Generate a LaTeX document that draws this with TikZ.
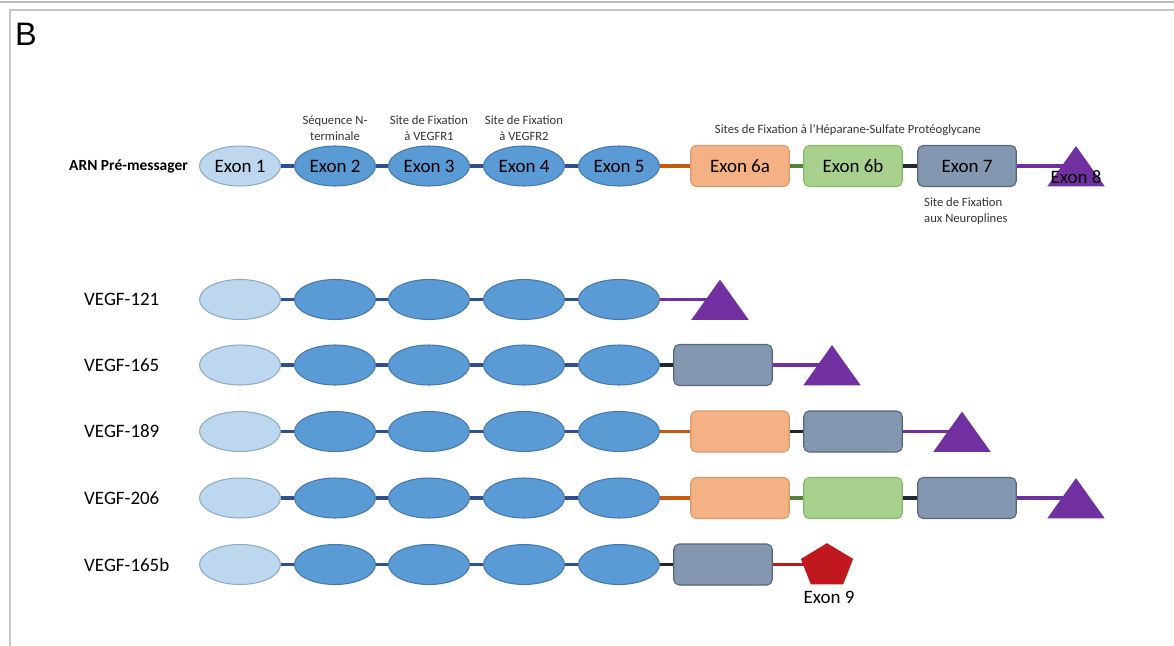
\documentclass[tikz,border=0pt]{standalone}
\usepackage{fontspec}
\setmainfont{Carlito}
\newfontfamily\arialfont{Liberation Sans}
\usetikzlibrary{shapes.geometric,backgrounds}

\definecolor{exlight}{HTML}{BDD7EE}
\definecolor{exlightline}{HTML}{8EA9C8}
\definecolor{exblue}{HTML}{5B9BD5}
\definecolor{exblueline}{HTML}{4677AD}
\definecolor{exorange}{HTML}{F4B183}
\definecolor{exorangeline}{HTML}{D99A6C}
\definecolor{exgreen}{HTML}{A9D18E}
\definecolor{exgreenline}{HTML}{86B86A}
\definecolor{exgrey}{HTML}{8497B0}
\definecolor{exgreyline}{HTML}{56657A}
\definecolor{expurple}{HTML}{7030A0}
\definecolor{exred}{HTML}{C0181E}
\definecolor{lnblue}{HTML}{2F4F8F}
\definecolor{lnorange}{HTML}{C55A11}
\definecolor{lngreen}{HTML}{538135}
\definecolor{lndark}{HTML}{1E2833}

\newcommand\exfont{\fontsize{10.8}{12}\selectfont}
\newcommand\smallfont{\fontsize{7.2}{9}\selectfont}

\begin{document}
\begin{tikzpicture}[x=0.02cm, y=-0.02cm,
		exA/.style={ellipse, draw=exlightline, fill=exlight, line width=.6pt,
			minimum width=1.62cm, minimum height=.8cm, inner sep=0pt, font=\exfont},
		exB/.style={exA, draw=exblueline, fill=exblue},
		exbox/.style={rectangle, rounded corners=3pt, line width=.6pt,
			minimum width=1.97cm, minimum height=.82cm, inner sep=0pt, font=\exfont},
		ex6a/.style={exbox, draw=exorangeline, fill=exorange},
		ex6b/.style={exbox, draw=exgreenline, fill=exgreen},
		ex7/.style={exbox, draw=exgreyline, fill=exgrey},
		ex8/.style={regular polygon, regular polygon sides=3, fill=expurple,
			minimum size=1.33cm, inner sep=0pt, yscale=.81},
		ex9/.style={regular polygon, regular polygon sides=5, fill=exred,
			minimum size=1.1cm, inner sep=0pt, yscale=.83},
		cx/.style={line width=2pt},
		note/.style={font=\smallfont, align=center, text=black!80},
		rowname/.style={anchor=west, font=\exfont}
	]
	\useasboundingbox (0,0) rectangle (1174,646);
	\draw[color=gray!55, line width=.8pt] (0,2) -- (1174,2);
	\draw[color=gray!45, line width=.8pt] (1174,10) -- (10,10) -- (10,646);
	\node[font=\arialfont\fontsize{18.5}{20}\selectfont] (lettre) at (26,34) {B};

	\node[anchor=east, font=\fontsize{8.8}{10}\selectfont\bfseries] (arn) at (194,166) {ARN Pré-messager};
	\node[exA] (a1) at (240,166) {Exon 1};
	\node[exB] (a2) at (335,166) {Exon 2};
	\node[exB] (a3) at (429,166) {Exon 3};
	\node[exB] (a4) at (524,166) {Exon 4};
	\node[exB] (a5) at (619,166) {Exon 5};
	\node[ex6a] (a6a) at (740,166) {Exon 6a};
	\node[ex6b] (a6b) at (853,166) {Exon 6b};
	\node[ex7] (a7) at (967,166) {Exon 7};
	\node[ex8] (a8) at (1076,173) {};
	\node[font=\exfont] (a8txt) at (1076,177) {Exon 8};

	\node[note] (nterm) at (335,128) {Séquence N-\\terminale};
	\node[note] (fixr1) at (429,128) {Site de Fixation\\à VEGFR1};
	\node[note] (fixr2) at (524,128) {Site de Fixation\\à VEGFR2};
	\node[note] (fixhs) at (848,130) {Sites de Fixation à l’Héparane-Sulfate Protéoglycane};
	\node[note, align=left, anchor=west] (fixnp) at (918,211) {Site de Fixation\\aux Neuroplines};

	\foreach \r/\y/\name in {b/299.5/121,c/365/165,d/431.5/189,e/498/206,f/564.5/165b}{
		\node[rowname] (\r0) at (78,\y) {VEGF-\name};
		\node[exA] (\r1) at (240,\y) {};
		\foreach \i/\x in {2/335,3/429,4/524,5/619}
			\node[exB] (\r\i) at (\x,\y) {};
	}

	\node[ex8] (b8) at (720,306.5) {};

	\node[ex7] (c7) at (723,365) {};
	\node[ex8] (c8) at (832,372) {};

	\node[ex6a] (d6a) at (740,431.5) {};
	\node[ex7] (d7) at (853,431.5) {};
	\node[ex8] (d8) at (962,438.5) {};

	\node[ex6a] (e6a) at (740,498) {};
	\node[ex6b] (e6b) at (853,498) {};
	\node[ex7] (e7) at (967,498) {};
	\node[ex8] (e8) at (1076,505) {};

	\node[ex7] (f7) at (723,564.5) {};
	\node[ex9] (f9) at (827,566) {};
	\node[font=\exfont] (f9txt) at (829,597) {Exon 9};

	\begin{scope}[on background layer]
		\foreach \r in {a,b,c,d,e,f}
			\draw[cx, color=lnblue] (\r1) -- (\r2) -- (\r3) -- (\r4) -- (\r5);
		\draw[cx, color=lnorange] (a5) -- (a6a) (d5) -- (d6a) (e5) -- (e6a);
		\draw[cx, color=lngreen] (a6a) -- (a6b) (e6a) -- (e6b);
		\draw[cx, color=lndark] (a6b) -- (a7) (c5) -- (c7) (d6a) -- (d7) (e6b) -- (e7) (f5) -- (f7);
		\draw[cx, color=expurple] (a7) -- (a7 -| a8) (b5) -- (b5 -| b8) (c7) -- (c7 -| c8)
			(d7) -- (d7 -| d8) (e7) -- (e7 -| e8);
		\draw[cx, color=exred] (f7) -- (f7 -| f9);
	\end{scope}
\end{tikzpicture}
\end{document}
